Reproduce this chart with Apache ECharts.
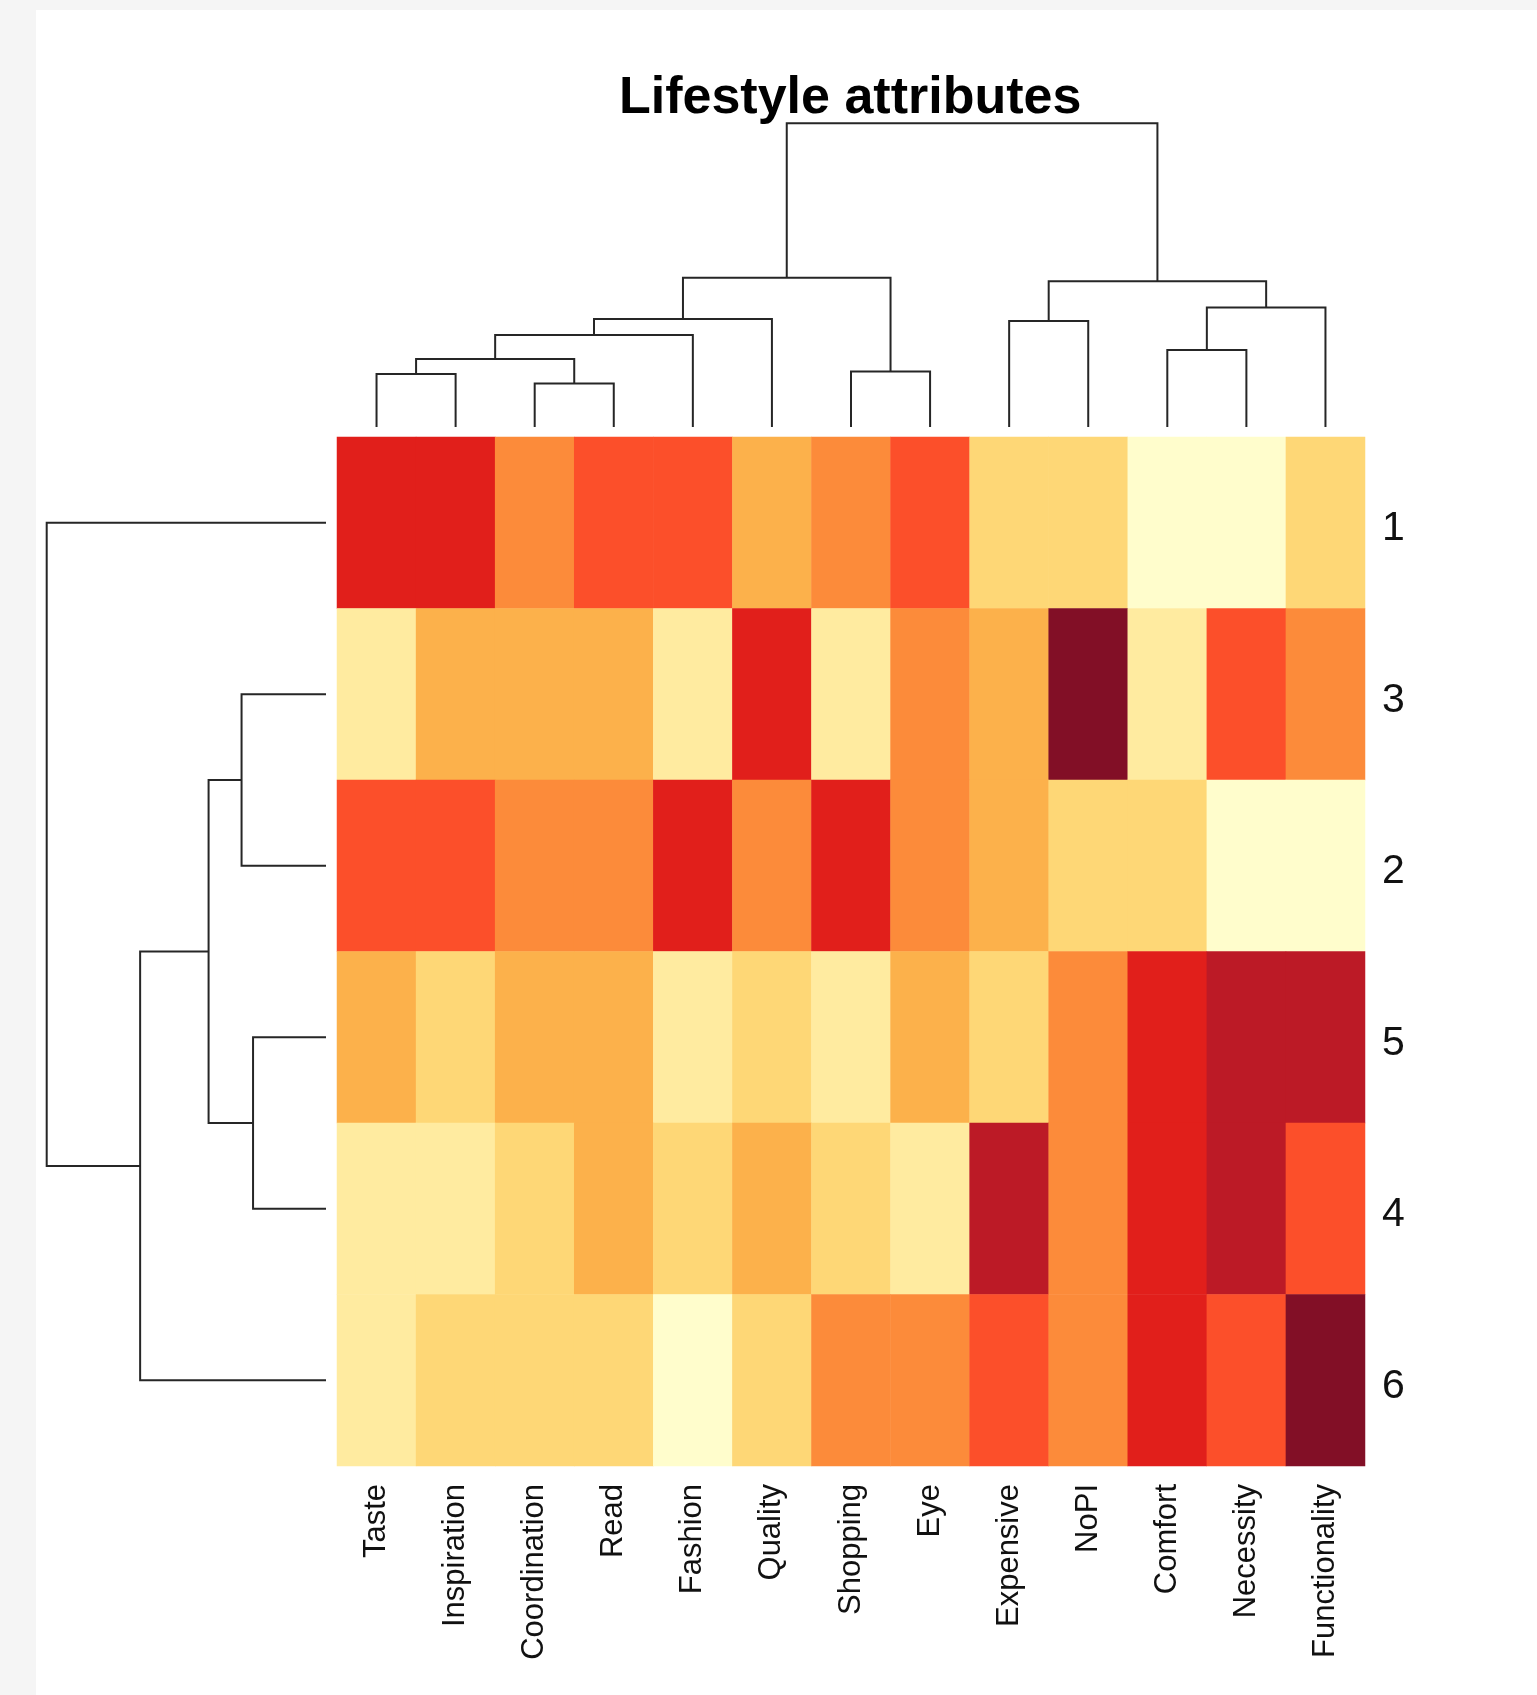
<!DOCTYPE html>
<html>
<head>
<meta charset="utf-8">
<title>Lifestyle attributes</title>
<script src="https://cdn.jsdelivr.net/npm/echarts@6/dist/echarts.min.js"></script>
<style>
  html, body { margin: 0; padding: 0; width: 1537px; height: 1695px; background: #f5f5f5; overflow: hidden; }
  #chart { position: absolute; left: 36px; top: 10px; width: 1501px; height: 1685px; background: #ffffff; }
</style>
</head>
<body>
<div id="chart"></div>
<script>
// Column (attribute) labels in dendrogram order
const columns = ['Taste', 'Inspiration', 'Coordination', 'Read', 'Fashion', 'Quality',
  'Shopping', 'Eye', 'Expensive', 'NoPI', 'Comfort', 'Necessity', 'Functionality'];

// Row (cluster) labels in dendrogram order, top to bottom
const rows = ['1', '3', '2', '5', '4', '6'];

// Colour level of each cell (0 = lightest … 8 = darkest), one list per row
const row1 = [6, 6, 4, 5, 5, 3, 4, 5, 2, 2, 0, 0, 2];
const row3 = [1, 3, 3, 3, 1, 6, 1, 4, 3, 8, 1, 5, 4];
const row2 = [5, 5, 4, 4, 6, 4, 6, 4, 3, 2, 2, 0, 0];
const row5 = [3, 2, 3, 3, 1, 2, 1, 3, 2, 4, 6, 7, 7];
const row4 = [1, 1, 2, 3, 2, 3, 2, 1, 7, 4, 6, 7, 5];
const row6 = [1, 2, 2, 2, 0, 2, 4, 4, 5, 4, 6, 5, 8];
const levels = [row1, row3, row2, row5, row4, row6];

// Yellow-orange-red sequential palette
const palette = ['#FFFDCC', '#FFEBA0', '#FED776', '#FCB14B', '#FC8B3A',
  '#FC4F2A', '#E11F1B', '#BC1A26', '#820F26'];

// Column clustering, hclust style: negative = leaf (1-based, display order), positive = earlier merge step
const colMerge = [[-1, -2], [-3, -4], [1, 2], [3, -5], [4, -6], [-7, -8],
  [5, 6], [-9, -10], [-11, -12], [9, -13], [8, 10], [7, 11]];
const colHeight = [1.06, 0.87, 1.36, 1.84, 2.16, 1.11, 2.99, 2.12, 1.54, 2.39, 2.92, 6.08];

// Row clustering, same convention
const rowMerge = [[-2, -3], [-4, -5], [1, 2], [3, -6], [-1, 4]];
const rowHeight = [1.69, 1.46, 2.35, 3.72, 5.59];

// Turn a merge table into elbow segments: [pos1, h1, pos2, h2, h]
function dendroSegments(merge, height) {
  const mid = [];
  const segs = [];
  const posOf = k => (k < 0 ? (-k - 1) + 0.5 : mid[k - 1]);
  const hOf = k => (k < 0 ? 0 : height[k - 1]);
  merge.forEach((m, i) => {
    const p1 = posOf(m[0]), p2 = posOf(m[1]);
    segs.push([p1, hOf(m[0]), p2, hOf(m[1]), height[i]]);
    mid.push((p1 + p2) / 2);
  });
  return segs;
}

const colSegs = dendroSegments(colMerge, colHeight);
const rowSegs = dendroSegments(rowMerge, rowHeight);

const cells = [];
levels.forEach((vals, r) => vals.forEach((v, c) => cells.push([c, r, v])));

const FONT = '"Liberation Sans", Arial, Helvetica, sans-serif';
const LINE = { stroke: '#262626', lineWidth: 2, fill: null };

const chart = echarts.init(document.getElementById('chart'), null, { renderer: 'canvas' });

chart.setOption({
  animation: false,
  backgroundColor: '#ffffff',
  title: {
    text: 'Lifestyle attributes',
    left: 583,
    top: 63,
    padding: 0,
    textStyle: { fontSize: 52, fontWeight: 'bold', fontFamily: FONT, color: '#000000' }
  },
  grid: [
    { left: 301, top: 427, width: 1028, height: 1029 },
    { left: 301, top: 113.3, width: 1028, height: 303.7 },
    { left: 10.7, top: 427, width: 279.3, height: 1029 }
  ],
  xAxis: [
    {
      gridIndex: 0, type: 'category', data: columns,
      axisLine: { show: false }, axisTick: { show: false }, splitLine: { show: false },
      axisLabel: { rotate: 90, interval: 0, fontSize: 31, margin: 18, color: '#111111', fontFamily: FONT }
    },
    { gridIndex: 1, type: 'value', min: 0, max: columns.length, show: false },
    { gridIndex: 2, type: 'value', min: 0, max: rowHeight[rowHeight.length - 1], inverse: true, show: false }
  ],
  yAxis: [
    {
      gridIndex: 0, type: 'category', data: rows, inverse: true, position: 'right',
      axisLine: { show: false }, axisTick: { show: false }, splitLine: { show: false },
      axisLabel: { fontSize: 41, margin: 17, color: '#111111', fontFamily: FONT, verticalAlign: 'top', lineHeight: 12 }
    },
    { gridIndex: 1, type: 'value', min: 0, max: colHeight[colHeight.length - 1], show: false },
    { gridIndex: 2, type: 'value', min: 0, max: rows.length, inverse: true, show: false }
  ],
  visualMap: {
    type: 'piecewise', show: false, seriesIndex: 0, dimension: 2,
    pieces: palette.map((c, i) => ({ value: i, color: c }))
  },
  series: [
    {
      type: 'heatmap', xAxisIndex: 0, yAxisIndex: 0, data: cells,
      emphasis: { disabled: true }, silent: true, progressive: 0
    },
    {
      type: 'custom', xAxisIndex: 1, yAxisIndex: 1, data: colSegs, silent: true, clip: false,
      encode: { x: [0, 2], y: [1, 3, 4] },
      renderItem: (params, api) => {
        const a = api.value(0), ha = api.value(1), b = api.value(2), hb = api.value(3), h = api.value(4);
        return {
          type: 'polyline',
          shape: { points: [api.coord([a, ha]), api.coord([a, h]), api.coord([b, h]), api.coord([b, hb])] },
          style: LINE
        };
      }
    },
    {
      type: 'custom', xAxisIndex: 2, yAxisIndex: 2, data: rowSegs, silent: true, clip: false,
      encode: { x: [1, 3, 4], y: [0, 2] },
      renderItem: (params, api) => {
        const a = api.value(0), ha = api.value(1), b = api.value(2), hb = api.value(3), h = api.value(4);
        return {
          type: 'polyline',
          shape: { points: [api.coord([ha, a]), api.coord([h, a]), api.coord([h, b]), api.coord([hb, b])] },
          style: LINE
        };
      }
    }
  ]
});
</script>
</body>
</html>
